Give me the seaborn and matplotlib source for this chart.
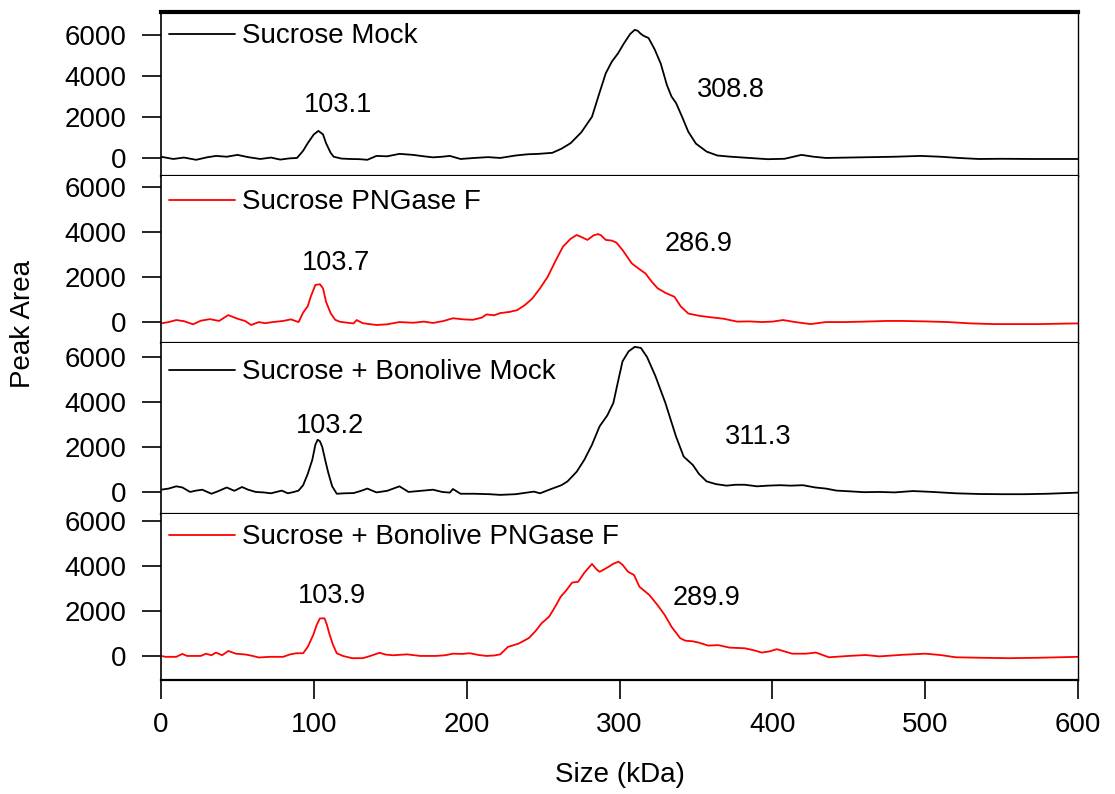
import matplotlib
matplotlib.use("Agg")
import matplotlib.pyplot as plt
import seaborn as sns
import pandas as pd

sns.set_style("ticks")
plt.rcParams['font.family'] = ['Liberation Sans', 'DejaVu Sans']
plt.rcParams['text.color'] = 'black'
plt.rcParams['axes.labelcolor'] = 'black'
plt.rcParams['xtick.color'] = 'black'
plt.rcParams['ytick.color'] = 'black'
plt.rcParams['legend.labelcolor'] = 'black'

# ---------------- data ----------------
s1_x = [0, 8, 15, 23, 30, 36, 43, 50, 57, 65, 72, 78, 84, 89, 93, 96, 100, 103, 106, 108,
        111, 113, 118, 124, 130, 135, 141, 148, 156, 165, 172, 178, 184, 189, 196, 205, 214, 222, 232, 240,
        247, 256, 262, 268, 275, 282, 287, 291, 295, 299, 303, 307, 310, 312, 314, 316, 319, 323, 327, 331,
        334, 337, 341, 345, 350, 357, 364, 372, 385, 397, 408, 419, 427, 435, 450, 465, 480, 497, 510, 522,
        535, 550, 570, 585, 600]
s1_y = [60, -50, 20, -90, 30, 100, 60, 150, 40, -50, 20, -80, -20, 0, 350, 720, 1150, 1320, 1150, 720,
        250, 60, -30, -50, -60, -90, 100, 80, 200, 150, 80, 30, 60, 100, -50, 0, 40, 0, 120, 180,
        200, 250, 450, 720, 1250, 2010, 3200, 4130, 4700, 5100, 5600, 6050, 6250, 6200, 6050, 5950, 5850, 5300, 4600, 3560,
        3000, 2680, 2000, 1280, 700, 310, 120, 65, 0, -60, -40, 150, 60, 0, 20, 40, 60, 100, 60, 0,
        -50, -40, -50, -50, -50]

s2_x = [0, 5, 10, 15, 21, 26, 32, 38, 44, 50, 55, 59, 64, 68, 73, 80, 85, 90, 93, 96,
        98, 101, 104, 106, 108, 111, 114, 117, 122, 126, 128, 132, 141, 148, 156, 165, 172, 178, 185, 191,
        198, 204, 210, 213, 218, 222, 228, 233, 238, 243, 248, 253, 258, 263, 268, 272, 276, 279, 283, 286,
        288, 291, 295, 298, 302, 308, 312, 317, 321, 325, 330, 336, 340, 345, 352, 360, 368, 377, 385, 393,
        400, 407, 415, 425, 435, 447, 460, 475, 485, 500, 515, 530, 545, 560, 575, 590, 600]
s2_y = [-60, 0, 90, 40, -100, 60, 130, 50, 310, 150, 50, -130, 0, -50, 0, 50, 120, 0, 420, 700,
        1130, 1650, 1680, 1500, 900, 390, 100, 15, -30, -60, 90, -50, -130, -100, 0, -30, 20, -40, 50, 170,
        120, 100, 200, 340, 300, 400, 450, 530, 750, 1050, 1500, 2010, 2700, 3350, 3700, 3870, 3750, 3650, 3850, 3910,
        3850, 3650, 3620, 3530, 3200, 2610, 2400, 2160, 1800, 1500, 1300, 1120, 700, 380, 280, 210, 150, 20, 30, 0,
        20, 90, 0, -90, 0, 0, 20, 50, 50, 30, 0, -60, -90, -90, -90, -70, -60]

s3_x = [0, 5, 10, 14, 19, 23, 27, 33, 38, 43, 48, 53, 57, 62, 67, 72, 79, 83, 87, 90,
        93, 96, 99, 101, 102.5, 104, 105.5, 107.5, 109.5, 112, 115, 120, 126, 131, 135, 141, 148, 156, 162, 170,
        178, 184, 189, 191, 196, 205, 215, 222, 232, 244, 248, 256, 262, 266, 272, 277, 282, 287, 292, 296,
        299, 302, 306, 310, 314, 318, 323.5, 330, 337, 342, 348, 352, 357, 363, 370, 376, 382, 390, 397, 405,
        412, 420, 428, 435, 442, 450, 460, 470, 480, 492, 505, 520, 535, 550, 565, 580, 600]
s3_y = [100, 150, 250, 200, 0, 60, 100, -80, 50, 200, 50, 220, 100, 0, -20, -60, 60, -60, 0, 60,
        300, 800, 1430, 2100, 2320, 2250, 2000, 1400, 840, 250, -80, -60, -50, 50, 150, -20, 50, 250, 0, 50,
        100, 0, -30, 130, -80, -80, -100, -130, -100, 15, -60, 150, 300, 470, 900, 1430, 2100, 2920, 3400, 3960,
        4900, 5810, 6250, 6450, 6400, 6000, 5150, 3960, 2460, 1570, 1200, 800, 470, 350, 280, 320, 320, 250, 280, 300,
        280, 300, 200, 150, 60, 30, -10, 0, -20, 40, 0, -60, -90, -100, -100, -80, -30]

s4_x = [0, 3, 10, 14, 17, 22, 26, 29.5, 33, 36, 40, 44, 49, 55.6, 60, 64, 71, 76, 80, 84,
        88.5, 93, 96, 99.6, 102, 104, 107, 108.5, 110, 112.5, 115, 119, 125, 132, 137, 143, 147, 152, 161, 169.6,
        180, 186, 191, 197, 202, 208, 213, 218, 222, 227, 234, 240.6, 245, 249, 254, 258, 261.6, 265, 269, 273,
        277, 282, 285, 287, 290, 293, 296, 299.4, 302, 305.6, 309.5, 313, 319.5, 325, 329.6, 334, 339.7, 343, 348, 352,
        358, 364.6, 372, 382, 388, 393, 398, 403, 408, 413, 422, 428.5, 437, 450, 461, 470, 485, 500, 510, 520,
        535, 555, 575, 600]
s4_y = [0, -40, -40, 90, 0, 0, 0, 100, 30, 150, 30, 220, 100, 60, 0, -70, -40, -40, -40, 60,
        120, 120, 400, 930, 1400, 1670, 1670, 1400, 1020, 500, 120, 0, -100, -100, 0, 140, 60, 30, 70, 0,
        0, 30, 100, 90, 120, 40, 0, 20, 70, 400, 550, 790, 1100, 1450, 1750, 2200, 2640, 2900, 3260, 3300,
        3700, 4090, 3850, 3740, 3850, 3970, 4100, 4190, 4050, 3740, 3600, 3080, 2710, 2250, 1820, 1300, 790, 680, 650, 590,
        460, 480, 370, 340, 250, 150, 200, 300, 200, 100, 100, 150, -60, 0, 40, -20, 50, 100, 40, -60,
        -80, -100, -80, -40]

series_names = ["Sucrose Mock", "Sucrose PNGase F",
                "Sucrose + Bonolive Mock", "Sucrose + Bonolive PNGase F"]
series_colors = ["black", "#ff0000", "black", "#ff0000"]
series_x = [s1_x, s2_x, s3_x, s4_x]
series_y = [s1_y, s2_y, s3_y, s4_y]

peak_labels = [["103.1", "308.8"], ["103.7", "286.9"], ["103.2", "311.3"], ["103.9", "289.9"]]
peak_label_x = [[115.8, 373], [114.5, 352], [110.6, 391], [112, 357]]
peak_label_y = [[2590, 3320], [2620, 3470], [2930, 2440], [2670, 2580]]

ylims = [(-880, 7120), (-930, 6490), (-980, 6620), (-1070, 6310)]
yticks = [0, 2000, 4000, 6000]
xticks = [0, 100, 200, 300, 400, 500, 600]

# ---------------- layout ----------------
W, H = 1115, 794
fig = plt.figure(figsize=(W / 100, H / 100), dpi=100)
left_px, right_px = 161, 1078
panel_px = [(12, 176), (176, 343), (343, 514), (514, 680)]
legend_drop = [0.018, 0.03, 0.047, 0.012]

fs = 20
axes = []
for i, (top, bot) in enumerate(panel_px):
    ax = fig.add_axes([left_px / W, 1 - bot / H, (right_px - left_px) / W, (bot - top) / H])
    axes.append(ax)
    df = pd.DataFrame({"Size (kDa)": series_x[i], "Peak Area": series_y[i]})
    sns.lineplot(data=df, x="Size (kDa)", y="Peak Area", ax=ax, color=series_colors[i],
                 linewidth=1.3, estimator=None, sort=False, label=series_names[i])
    ax.set_xlim(0, 600)
    ax.set_ylim(*ylims[i])
    ax.set_yticks(yticks)
    ax.set_yticklabels([str(t) for t in yticks])
    ax.set_xlabel("")
    ax.set_ylabel("")
    ax.tick_params(axis='y', direction='out', length=14, width=1.2, pad=11,
                   labelsize=fs, colors='black')
    for lab, lx, ly in zip(peak_labels[i], peak_label_x[i], peak_label_y[i]):
        ax.text(lx, ly, lab, ha='center', va='center', fontsize=19.5, color='black')
    leg = ax.legend(loc='upper left', bbox_to_anchor=(0, 1 - legend_drop[i]),
                    frameon=False, fontsize=fs, handlelength=2.35,
                    handletextpad=0.25, borderaxespad=0.0, borderpad=0.3)
    for t in leg.get_texts():
        t.set_color('black')
    for sp in ax.spines.values():
        sp.set_color('black')
    ax.spines['left'].set_linewidth(1.2)
    ax.spines['right'].set_linewidth(1.0)
    ax.spines['bottom'].set_linewidth(1.6)
    if i == 0:
        ax.spines['top'].set_linewidth(3.0)
    else:
        ax.spines['top'].set_visible(False)
    if i < 3:
        ax.tick_params(axis='x', bottom=False, labelbottom=False)
    else:
        ax.set_xticks(xticks)
        ax.set_xticklabels([str(t) for t in xticks])
        ax.tick_params(axis='x', direction='out', length=14, width=1.2, pad=9,
                       labelsize=fs, colors='black')

fig.text(23 / W, 1 - 324 / H, "Peak Area", rotation=90, ha='center', va='center',
         fontsize=fs, color='black')
fig.text((left_px + right_px) / 2 / W, 1 - 775 / H, "Size (kDa)", ha='center', va='center',
         fontsize=fs, color='black')

fig.savefig("out.png", dpi=100)
